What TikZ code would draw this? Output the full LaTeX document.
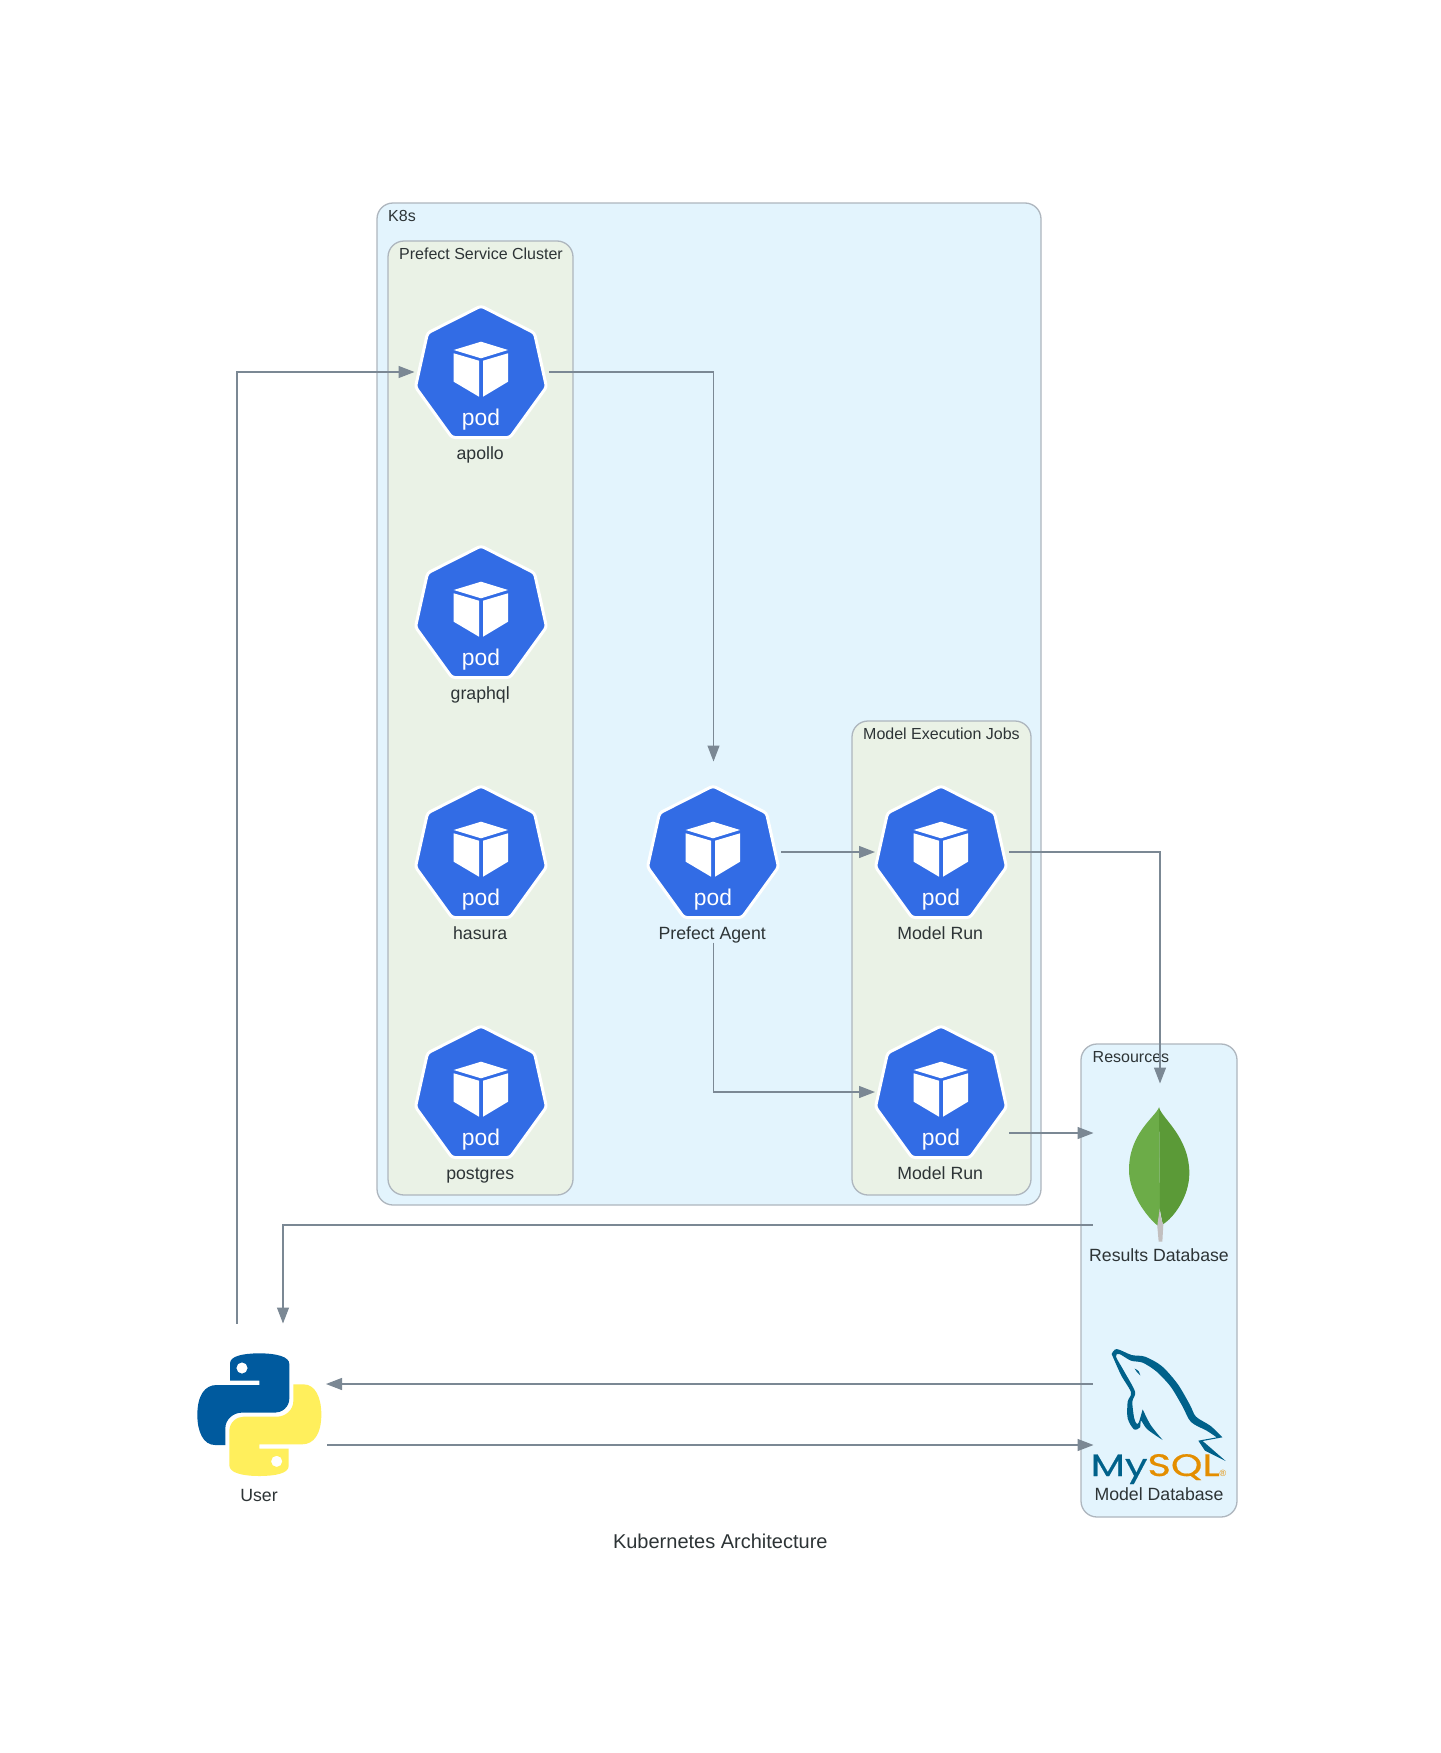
\documentclass[tikz,border=0pt]{standalone}
\usepackage{fontspec}
\usepackage{graphicx}
\setmainfont{Liberation Sans}
\newfontfamily\logofont[FakeBold=0.5]{Poppins}
\usetikzlibrary{arrows.meta}
\definecolor{ink}{HTML}{2D3436}
\definecolor{edgec}{HTML}{7B8894}
\definecolor{penc}{HTML}{AEB6BE}
\definecolor{levela}{HTML}{E3F4FD}
\definecolor{levelb}{HTML}{EAF2E6}
\definecolor{podblue}{HTML}{326CE5}
\definecolor{pyblue}{HTML}{005A9E}
\definecolor{pyyellow}{HTML}{FFEF5C}
\definecolor{leafl}{HTML}{6CAC48}
\definecolor{leafr}{HTML}{5B9A37}
\definecolor{leafs}{HTML}{C2BFBF}
\definecolor{sqlblue}{HTML}{00618A}
\definecolor{sqlorange}{HTML}{E48E00}
\tikzset{
  cluster/.style={draw=penc,line width=1.3pt,rounded corners=16pt,anchor=north west,inner sep=0pt,outer sep=0pt},
  cluslabel/.style={anchor=base west,inner sep=0pt,text=ink,font=\fontsize{16}{18}\selectfont},
  nodelabel/.style={anchor=base,inner sep=0pt,text=ink,font=\fontsize{17.7}{20}\selectfont},
  iconbox/.style={minimum width=135pt,minimum height=181pt,inner sep=0pt,outer sep=0pt},
  link/.style={draw=edgec,line width=1.2pt},
  arrowed/.style={link,-{Triangle[length=16pt,width=12pt,fill=edgec]}},
}
% name, x, y, label
\newcommand{\podnode}[4]{%
  \node[iconbox] (#1) at (#2,#3) {};
  \begin{scope}[shift={(#2,#3)}]
    \path[fill=podblue,draw=white,line width=3pt,rounded corners=3pt]
      (-0.5,-66) -- (53,-39) -- (65,15) -- (28.5,65.5) -- (-29.5,65.5) -- (-66,15) -- (-54,-39) -- cycle;
    \fill[white] (-0.5,-30.3) -- (26.5,-22) -- (-0.5,-13.7) -- (-27.8,-22) -- cycle;
    \fill[white] (-27.8,-18.7) -- (-2.5,-11.3) -- (-2.5,24.7) -- (-27.8,9.7) -- cycle;
    \fill[white] (26.5,-18.7) -- (1.5,-11.3) -- (1.5,24.7) -- (26.5,9.7) -- cycle;
    \node[anchor=base,inner sep=0pt,text=white,font=\fontsize{22.8}{24}\selectfont] (#1-pod) at (-0.5,53) {pod};
    \node[nodelabel] (#1-label) at (-1.3,87) {#4};
  \end{scope}}
\begin{document}
\begin{tikzpicture}[x=1pt,y=-1pt]
\useasboundingbox (0,0) rectangle (1440,1753);
\fill[white] (0,0) rectangle (1440,1753);

% clusters
\node[cluster,fill=levela,minimum width=664pt,minimum height=1002pt] (k8s) at (377,203) {};
\node[cluster,fill=levelb,minimum width=185pt,minimum height=954pt] (prefect) at (388,241) {};
\node[cluster,fill=levelb,minimum width=179pt,minimum height=474pt] (jobs) at (852,721) {};
\node[cluster,fill=levela,minimum width=156pt,minimum height=473pt] (resources) at (1081,1044) {};
\node[cluslabel] (k8s-label) at (388,221) {K8s};
\node[cluslabel] (prefect-label) at (399,259) {Prefect Service Cluster};
\node[cluslabel] (jobs-label) at (863,739) {Model Execution Jobs};
\node[cluslabel] (resources-label) at (1092.5,1062) {Resources};

% pods
\podnode{apollo}{481.5}{372}{apollo}
\podnode{graphql}{481.5}{612}{graphql}
\podnode{hasura}{481.5}{852}{hasura}
\podnode{postgres}{481.5}{1092}{postgres}
\podnode{agent}{713.5}{852}{Prefect Agent}
\podnode{runa}{941.5}{852}{Model Run}
\podnode{runb}{941.5}{1092}{Model Run}

% other icon boxes
\node[iconbox] (user) at (259.5,1414) {};
\node[nodelabel] (user-label) at (259,1501) {User};
\node[iconbox] (leaf) at (1160,1174) {};
\node[nodelabel] (leaf-label) at (1159,1261) {Results Database};
\node[iconbox] (mysql) at (1160,1414) {};
\node[nodelabel] (mysql-label) at (1159,1500.5) {Model Database};

% python logo
\begin{scope}[shift={(180,1320)},x=0.33333pt,y=-0.33333pt]
  \fill[pyblue,even odd rule]
    (150,182) -- (150,130) .. controls (150,108) and (190,100) .. (238,100)
    .. controls (290,100) and (328,110) .. (328,132) -- (328,235)
    .. controls (328,262) and (305,278) .. (285,278) -- (185,278)
    .. controls (160,278) and (136,298) .. (136,325) -- (136,375) -- (105,375)
    .. controls (70,375) and (52,335) .. (52,285)
    .. controls (52,225) and (75,195) .. (110,195) -- (238,195) -- (238,182) -- cycle
    (186,144) circle[radius=17];
  \begin{scope}[rotate around={180:(238,284)}]
  \fill[pyyellow,even odd rule]
    (150,182) -- (150,130) .. controls (150,108) and (190,100) .. (238,100)
    .. controls (290,100) and (328,110) .. (328,132) -- (328,235)
    .. controls (328,262) and (305,278) .. (285,278) -- (185,278)
    .. controls (160,278) and (136,298) .. (136,325) -- (136,375) -- (105,375)
    .. controls (70,375) and (52,335) .. (52,285)
    .. controls (52,225) and (75,195) .. (110,195) -- (238,195) -- (238,182) -- cycle
    (186,144) circle[radius=17];
  \end{scope}
\end{scope}

% leaf logo
\begin{scope}[shift={(1060,1030)},x=0.33333pt,y=-0.33333pt]
  \fill[leafl] (297,232) .. controls (285,262) and (207,310) .. (207,420)
    .. controls (207,490) and (260,560) .. (293,587) -- (300,540) -- cycle;
  \fill[leafr] (297,232) .. controls (305,265) and (388,320) .. (388,430)
    .. controls (388,500) and (340,565) .. (308,583) -- (300,540) -- cycle;
  \fill[leafs] (299,535) .. controls (297,560) and (292,575) .. (292,590) -- (296,635) -- (307,635) -- (310,583)
    .. controls (303,570) and (300,550) .. (299,535) -- cycle;
\end{scope}

% mysql logo
\begin{scope}[shift={(1060,1330)},x=0.33333pt,y=-0.33333pt]
  \fill[sqlblue]
    plot[smooth,tension=0.5] coordinates {(155,72) (170,57) (215,75) (255,80) (305,108) (353,162) (390,225) (408,260) (452,288) (487,322)}
    -- (428,333) -- (450,352) -- (497,393)
    -- (435,362) -- (415,332)
    -- plot[smooth,tension=0.5] coordinates {(470,322) (440,302) (393,276) (367,228) (332,170) (290,125) (248,98) (213,92) (178,72) (168,80) (193,125) (225,185) (217,215) (222,262) (229,280) (236,278) (248,238)}
    -- plot[smooth,tension=0.5] coordinates {(248,238) (272,285) (308,330)}
    -- plot[smooth,tension=0.5] coordinates {(308,330) (262,298) (243,272) (240,292) (222,298) (203,265) (203,215) (213,187) (183,135) (155,72)}
    -- cycle;
  \fill[sqlblue] (224,116) .. controls (235,120) and (241,128) .. (241,136) .. controls (233,130) and (228,124) .. (224,116) -- cycle;
  \node[anchor=base west,inner sep=0pt,font=\logofont\fontsize{31}{33}\selectfont] (mysql-logo) at (91,438)
    {\scalebox{1.29}[1]{\textcolor{sqlblue}{My}\textcolor{sqlorange}{SQL}}};
  \node[inner sep=0pt,text=sqlorange,font=\fontsize{9}{10}\selectfont] (mysql-mark) at (489,429) {®};
\end{scope}

% connectors
\draw[arrowed] ([xshift=-22.5pt]user.north) |- ([xshift=.5pt]apollo.west);
\draw[arrowed] (apollo.east) -| (agent.north);
\draw[arrowed] (agent.east) -- ([xshift=1pt]runa.west);
\draw[arrowed] (agent.south) |- ([xshift=1pt]runb.west);
\draw[arrowed] (runa.east) -| (leaf.north);
\draw[arrowed] ([yshift=-41pt]runb.east) -- ([yshift=41pt,xshift=1pt]leaf.west);
\draw[arrowed] ([yshift=-51pt]leaf.west) -| ([xshift=23.5pt]user.north);
\draw[arrowed] ([yshift=30pt]mysql.west) -- ([yshift=30pt,xshift=-1pt]user.east);
\draw[arrowed] ([yshift=-31pt]user.east) -- ([yshift=-31pt,xshift=1pt]mysql.west);

% title
\node[anchor=base,inner sep=0pt,text=ink,font=\fontsize{20}{22}\selectfont] (title) at (720.3,1548.5) {Kubernetes Architecture};
\end{tikzpicture}
\end{document}
